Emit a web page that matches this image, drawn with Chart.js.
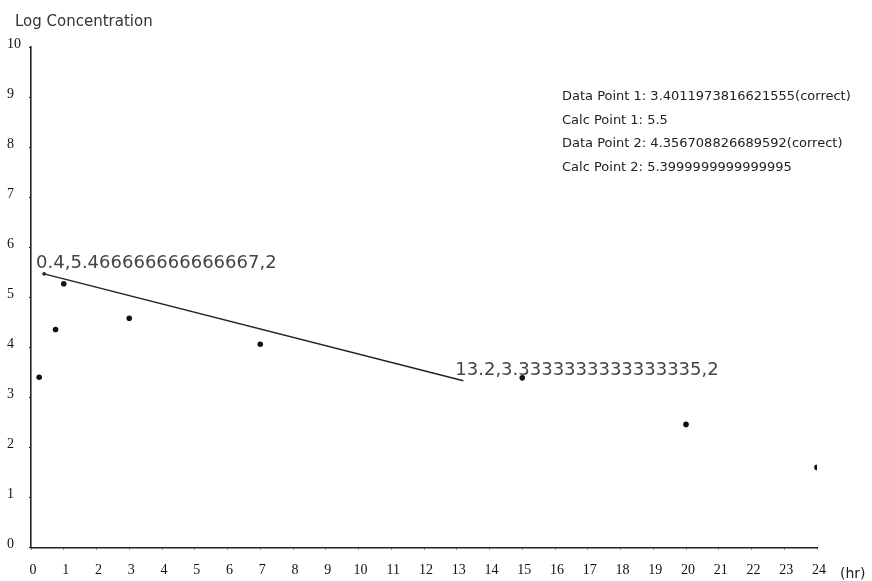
<!DOCTYPE html>
<html><head><meta charset="utf-8">
<script src="https://cdn.jsdelivr.net/npm/chart.js@4"></script>
<style>html,body{margin:0;padding:0;background:#fff}#wrap{width:872px;height:581px;position:relative}</style>
</head><body><div id="wrap"><canvas id="c"></canvas></div>
<script>
// Sampling times (hr) and measured log concentrations
const hours = [0.25, 0.75, 1, 3, 7, 15, 20, 24];
const logConc = [3.4011973816621555, 4.356708826689592, 5.27, 4.58, 4.06, 3.39, 2.46, 1.6];

// Fitted line end points
const fitX = [0.4, 13.2];
const fitY = [5.466666666666667, 3.3333333333333335];

// Axis ranges
const xMax = 24;
const yMax = 10;

// Text block in the upper right
const infoLines = [
  'Data Point 1: 3.4011973816621555(correct)',
  'Calc Point 1: 5.5',
  'Data Point 2: 4.356708826689592(correct)',
  'Calc Point 2: 5.3999999999999995'
];
const yTitle = 'Log Concentration';
const xUnit = '(hr)';

const textPlugin = {
  id: 'chartText',
  afterDraw(chart) {
    const ctx = chart.ctx;
    const xs = chart.scales.x, ys = chart.scales.y;
    ctx.save();
    ctx.textBaseline = 'alphabetic';
    ctx.textAlign = 'left';

    ctx.fillStyle = '#333';
    ctx.font = '15px "DejaVu Sans"';
    ctx.fillText(yTitle, 15, 26);

    ctx.font = '14px "DejaVu Sans"';
    ctx.fillStyle = '#222';
    ctx.fillText(xUnit, 840, 578);

    // end point labels of the fitted line
    ctx.font = '18px "DejaVu Sans"';
    ctx.fillStyle = '#444';
    for (let i = 0; i < fitX.length; i++) {
      const px = xs.getPixelForValue(fitX[i]);
      const py = ys.getPixelForValue(fitY[i]);
      ctx.fillText(fitX[i] + ',' + fitY[i] + ',2', px - 8, py - 6);
    }

    ctx.font = '13px "DejaVu Sans"';
    ctx.fillStyle = '#222';
    infoLines.forEach((t, i) => ctx.fillText(t, 562, 100 + i * 23.7));
    ctx.restore();
  }
};

new Chart(document.getElementById('c'), {
  type: 'scatter',
  data: {
    datasets: [
      {
        data: hours.map((h, i) => ({x: h, y: logConc[i]})),
        pointRadius: 2.8,
        pointBackgroundColor: '#111',
        pointBorderWidth: 0,
        showLine: false
      },
      {
        data: fitX.map((x, i) => ({x: x, y: fitY[i]})),
        showLine: true,
        borderColor: '#222',
        borderWidth: 1.5,
        pointRadius: [1.8, 0],
        pointBackgroundColor: '#222',
        pointBorderWidth: 0
      }
    ]
  },
  options: {
    responsive: true,
    maintainAspectRatio: false,
    animation: false,
    devicePixelRatio: 1,
    layout: {padding: {left: 7, right: 55, top: 47, bottom: 0}},
    plugins: {legend: {display: false}, tooltip: {enabled: false}, title: {display: false}},
    scales: {
      x: {
        type: 'linear', min: 0, max: xMax,
        afterFit(s) { s.height = 33.5; },
        grid: {display: true, drawOnChartArea: false, drawTicks: true, tickLength: 2, color: '#222'},
        border: {display: true, color: '#222', width: 1.6},
        ticks: {stepSize: 1, autoSkip: false, maxRotation: 0, padding: 12, labelOffset: 2,
                color: '#111', font: {family: '"Liberation Serif"', size: 14}}
      },
      y: {
        type: 'linear', min: 0, max: yMax,
        afterFit(s) { s.width = 24; },
        grid: {display: true, drawOnChartArea: false, drawTicks: true, tickLength: 2, color: '#222'},
        border: {display: true, color: '#222', width: 1.6},
        ticks: {stepSize: 1, crossAlign: 'far', labelOffset: -3, padding: 4,
                color: '#111', font: {family: '"Liberation Serif"', size: 14}}
      }
    }
  },
  plugins: [textPlugin]
});
</script>
</body></html>
